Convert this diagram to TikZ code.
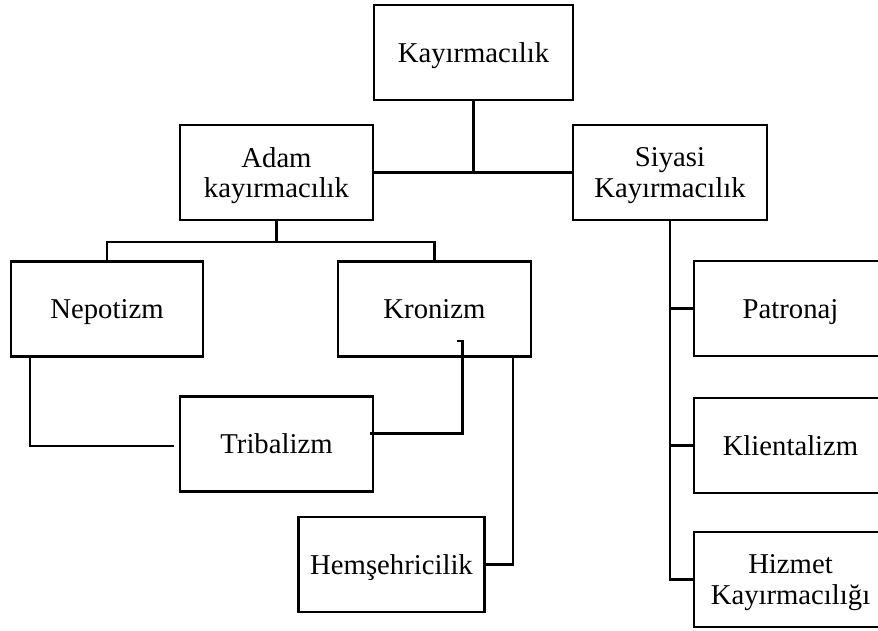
\documentclass[tikz,border=0pt]{standalone}
\usepackage{fontspec}
\setmainfont{Liberation Serif}
\usetikzlibrary{calc}
\begin{document}
\begin{tikzpicture}[x=0.03cm, y=-0.03cm, line width=2pt,
		box/.style={draw, rectangle, align=center, minimum height=2.85cm,
			text depth=0pt, font=\fontsize{24.5}{26.4}\selectfont}]
		\useasboundingbox (0,0) rectangle (878,630);
		\node[box, minimum width=5.97cm] (top) at (473.5,52.5) {Kay\i rmac\i l\i k};
		\node[box, minimum width=5.79cm] (adam) at (276.5,172.5) {Adam\\kay\i rmac\i l\i k};
		\node[box, minimum width=5.82cm] (siyasi) at (670,172.5) {Siyasi\\Kay\i rmac\i l\i k};
		\node[box, minimum width=5.76cm] (nepotizm) at (107,309) {Nepotizm};
		\node[box, minimum width=5.79cm] (kronizm) at (434.5,309) {Kronizm};
		\node[box, minimum width=5.79cm] (tribalizm) at (276.5,444) {Tribalizm};
		\node[box, minimum width=5.58cm] (hemsehri) at (391.5,564.5) {Hemşehricilik};
		\node[box, minimum width=5.79cm] (patronaj) at (790.5,308.5) {Patronaj};
		\node[box, minimum width=5.79cm] (klientalizm) at (790.5,445.5) {Klientalizm};
		\node[box, minimum width=5.79cm] (hizmet) at (790.5,579.5) {Hizmet\\Kay\i rmac\i l\i ğ\i};
		% top level
		\draw (top.south) -- (top.south |- adam.east);
		\draw (adam.east) -- (siyasi.west);
		% adam kayirmacilik
		\coordinate (abar) at ($(adam.south)+(0,21)$);
		\draw (adam.south) -- (abar);
		\draw (nepotizm.north) |- (abar) -| (kronizm.north);
		\draw ($(nepotizm.south west)+(20,0)$) |- ($(tribalizm.west)+(-5,2)$);
		\draw ($(kronizm.south)+(22,-17)$) -- ++(6,0) |- ($(tribalizm.north east)+(-4,38)$);
		\draw ($(kronizm.south east)+(-19,0)$) |- (hemsehri.east);
		% siyasi kayirmacilik
		\draw (siyasi.south) |- (hizmet.west);
		\draw (siyasi.south |- patronaj.west) -- (patronaj.west);
		\draw (siyasi.south |- klientalizm.west) -- (klientalizm.west);
\end{tikzpicture}
\end{document}
